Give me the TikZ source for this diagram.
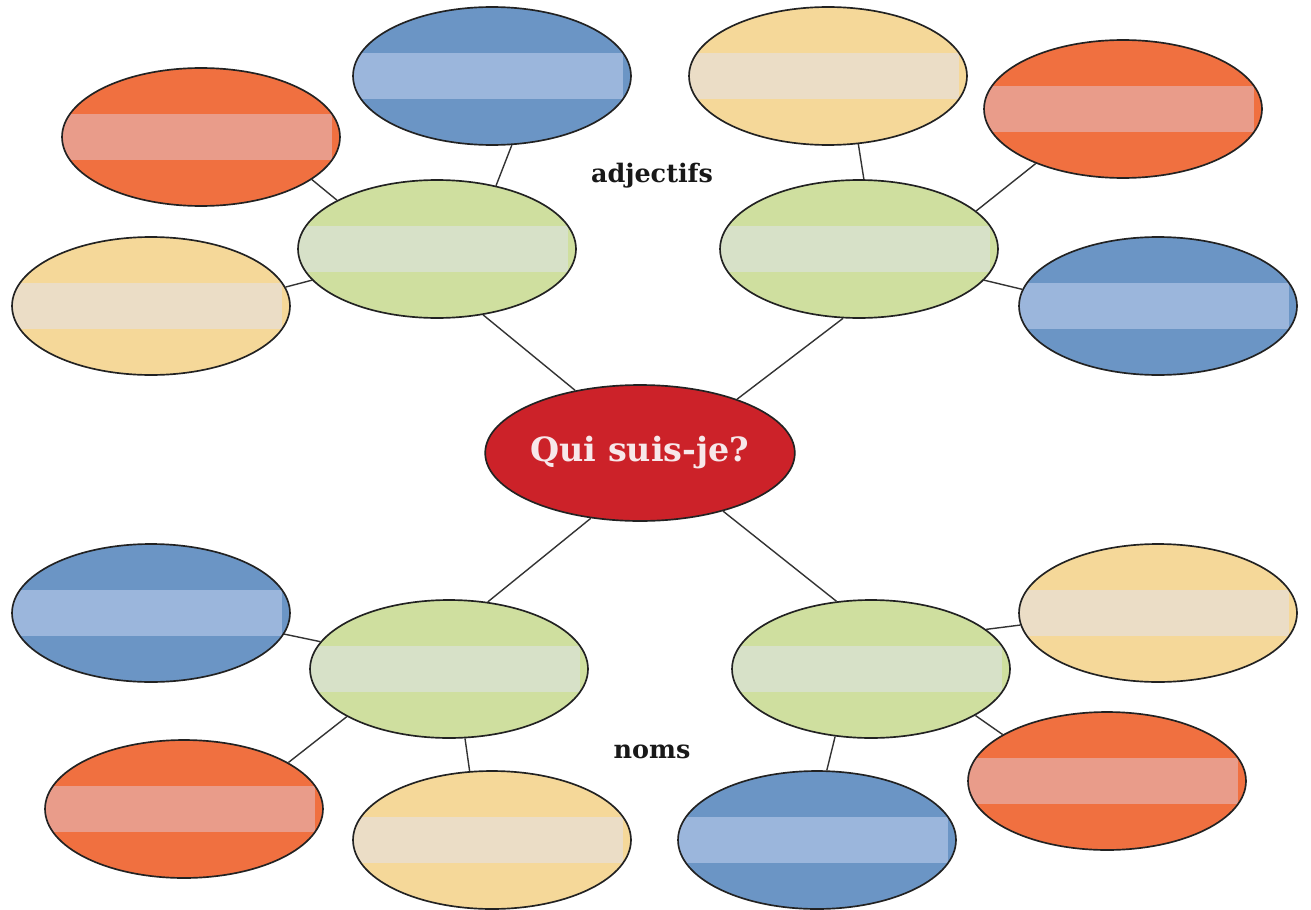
\documentclass[tikz,border=0pt]{standalone}
\usepackage{fontspec}
\setmainfont{DejaVu Serif}
\usetikzlibrary{shapes.geometric}
\definecolor{org}{HTML}{F07040}
\definecolor{orgband}{HTML}{E99C8A}
\definecolor{blu}{HTML}{6B95C5}
\definecolor{bluband}{HTML}{9BB6DC}
\definecolor{pch}{HTML}{F5D899}
\definecolor{pchband}{HTML}{EBDDC6}
\definecolor{grn}{HTML}{CFDF9F}
\definecolor{grnband}{HTML}{D7E1C8}
\definecolor{qred}{HTML}{CC2229}
\definecolor{qtext}{HTML}{F7E8EA}
\definecolor{outl}{HTML}{222222}
\definecolor{lnk}{HTML}{333333}
\begin{document}
\begin{tikzpicture}[x=0.02cm,y=-0.02cm,
  bub/.style={ellipse, draw=outl, line width=0.95pt, minimum width=5.56cm,
    minimum height=2.76cm, inner sep=0pt, fill=#1,
    path picture={\fill[#1band]
      ([xshift=-3cm,yshift=-0.46cm]path picture bounding box.center) rectangle
      ([xshift=2.62cm,yshift=0.46cm]path picture bounding box.center);}},
  hub/.style={ellipse, draw=outl, line width=0.95pt, minimum width=6.08cm,
    minimum height=2.72cm, inner sep=0pt, fill=qred, text=qtext,
    font=\bfseries\fontsize{19}{22}\selectfont},
  conn/.style={draw=lnk, line width=0.8pt},
  lbl/.style={font=\bfseries\fontsize{14.5}{17}\selectfont, text=black!90}]
\useasboundingbox (0,0) rectangle (1311,909);
\node[hub] (c) at (640,453) {Qui suis-je?};
\node[bub=grn] (tlg) at (437,249) {};
\node[bub=grn] (trg) at (859,249) {};
\node[bub=grn] (blg) at (449,669) {};
\node[bub=grn] (brg) at (871,669) {};
\node[bub=blu] (tlb) at (492,76) {};
\node[bub=org] (tlo) at (201,137) {};
\node[bub=pch] (tlp) at (151,306) {};
\node[bub=pch] (trp) at (828,76) {};
\node[bub=org] (tro) at (1123,109) {};
\node[bub=blu] (trb) at (1158,306) {};
\node[bub=blu] (blb) at (151,613) {};
\node[bub=org] (blo) at (184,809) {};
\node[bub=pch] (blp) at (492,840) {};
\node[bub=pch] (brp) at (1158,613) {};
\node[bub=org] (bro) at (1107,781) {};
\node[bub=blu] (brb) at (817,840) {};
\draw[conn] (c.136.6) -- (tlg.-55.5);
\draw[conn] (c.29) -- (trg.257);
\draw[conn] (c.233) -- (blg.60);
\draw[conn] (c.-35) -- (brg.117);
\draw[conn] (tlg.47.7) -- (tlb.-74.5);
\draw[conn] (tlg.154) -- (tlo.-21.4);
\draw[conn] (tlg.194) -- (tlp.8.6);
\draw[conn] (trg.86) -- (trp.-66);
\draw[conn] (trg.18) -- (tro.212);
\draw[conn] (trg.-14) -- (trb.173);
\draw[conn] (blg.168) -- (blb.-9);
\draw[conn] (blg.205) -- (blo.24);
\draw[conn] (blg.-77) -- (blp.108);
\draw[conn] (brg.19) -- (brp.185);
\draw[conn] (brg.-24) -- (bro.156);
\draw[conn] (brg.242) -- (brb.82);
\node[lbl] (adj) at (652,176) {adjectifs};
\node[lbl] (noms) at (652,752) {noms};
\end{tikzpicture}
\end{document}
